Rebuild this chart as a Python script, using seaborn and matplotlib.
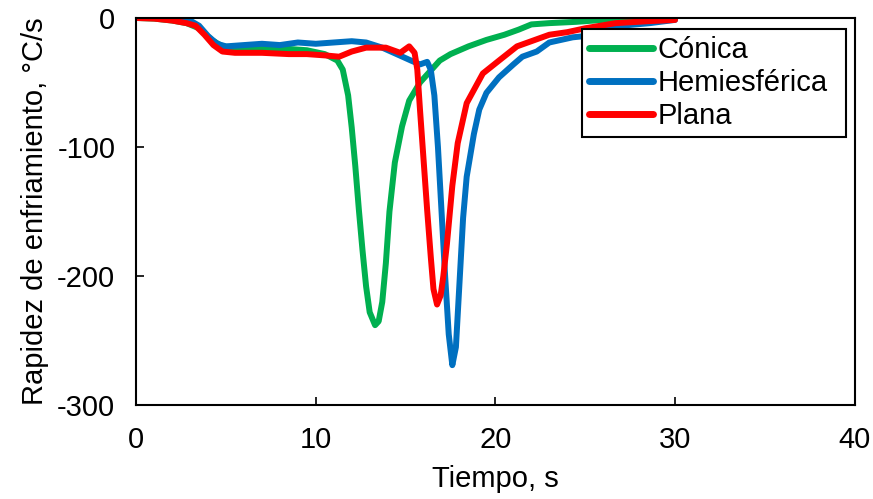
import pandas as pd
import matplotlib.pyplot as plt
import seaborn as sns

# Cónica
t_conica = [0, 1, 2, 2.8, 3.5, 4.2, 4.8, 5.5, 7, 8.5, 9.5, 10.5, 11.2, 11.5, 11.8, 12.0, 12.2,
            12.4, 12.6, 12.8, 13.0, 13.3, 13.5, 13.7, 13.9, 14.1, 14.4, 14.8, 15.2, 15.8, 16.9,
            17.5, 18.5, 19.5, 20.5, 21.3, 22, 23, 24.5, 26, 27.5, 29, 30]
y_conica = [0, -0.5, -2, -4, -8, -17, -22, -23, -23, -24, -25, -28, -33, -40, -60, -85, -115,
            -149, -180, -208, -228, -238, -235, -220, -190, -150, -112, -84, -64, -50, -33,
            -28, -22, -17, -13, -9, -5, -4, -3, -1.5, -1, -0.5, 0]

# Hemiesférica
t_hemi = [0, 1, 2, 3, 3.5, 4, 4.5, 5, 6, 7, 8, 9, 10, 11, 12, 12.8, 13.7, 14.5, 15.3, 15.8, 16.2,
          16.4, 16.6, 16.8, 17.0, 17.2, 17.4, 17.6, 17.8, 18.0, 18.2, 18.4, 18.8, 19.1, 19.5, 20.2,
          21, 21.5, 22.3, 23, 24.3, 25, 25.8, 27, 28.6, 30]
y_hemi = [0, 0, -0.5, -2, -6, -14, -20, -22, -21, -20, -21, -19, -20, -19, -18, -19, -23, -28, -33,
          -36, -34, -40, -60, -100, -150, -200, -245, -269, -255, -205, -155, -123, -90, -71, -58,
          -46, -36, -30, -26, -19, -15, -14, -8, -6, -4, -1.5]

# Plana
t_plana = [0, 1, 2, 2.8, 3.3, 3.8, 4.3, 4.8, 5.5, 7, 8.5, 9.5, 10.5, 11.3, 12.0, 12.8, 13.9, 14.7,
           15.2, 15.5, 15.65, 15.8, 16.0, 16.2, 16.4, 16.55, 16.75, 16.95, 17.1, 17.3, 17.6, 17.9,
           18.4, 19.3, 20.2, 21.2, 23, 24, 25, 26.7, 28.5, 30]
y_plana = [0, -0.5, -2, -4, -6, -13, -21, -26, -27, -27, -28, -28, -29, -30, -26, -23, -23, -27,
           -22, -27, -40, -71, -110, -149, -185, -210, -222, -215, -200, -175, -130, -97,
           -66, -43, -33, -22, -13, -11, -8, -4, -2.5, -1.5]

series = ["Cónica", "Hemiesférica", "Plana"]
colors = ["#00B050", "#0070C0", "#FF0000"]

df = pd.concat([
    pd.DataFrame({"t": t_conica, "y": y_conica, "serie": series[0]}),
    pd.DataFrame({"t": t_hemi, "y": y_hemi, "serie": series[1]}),
    pd.DataFrame({"t": t_plana, "y": y_plana, "serie": series[2]}),
])

sns.set_style("ticks")
plt.rcParams['font.family'] = ['Liberation Sans', 'DejaVu Sans']
plt.rcParams['axes.unicode_minus'] = False
plt.rcParams['text.color'] = 'black'
plt.rcParams['axes.labelcolor'] = 'black'

fig = plt.figure(figsize=(8.73, 4.99), dpi=100)
ax = fig.add_axes([0.156, 0.188, 0.823, 0.776])
sns.lineplot(data=df, x="t", y="y", hue="serie", palette=colors, hue_order=series,
             sort=False, estimator=None, linewidth=4.3, ax=ax,
             solid_joinstyle="round", solid_capstyle="round")

ax.set_xlim(0, 40)
ax.set_ylim(-300, 0)
ax.set_xticks([0, 10, 20, 30, 40])
ax.set_yticks([0, -100, -200, -300])
ax.tick_params(direction="in", length=6, width=1.2, labelsize=21, pad=15,
               top=False, right=False, colors="black")
for s in ax.spines.values():
    s.set_visible(True)
    s.set_color("black")
    s.set_linewidth(1.5)
ax.set_xlabel("Tiempo, s", fontsize=21, labelpad=8)
ax.set_ylabel("Rapidez de enfriamiento, °C/s", fontsize=21, labelpad=6)

leg = ax.legend(loc="upper left", bbox_to_anchor=(0.620, 0.708, 0.3675, 0.2636), mode="expand",
                fontsize=21, frameon=True, fancybox=False, handlelength=2.2,
                handletextpad=0.15, labelspacing=0.17, borderpad=0.25, borderaxespad=0)
leg.get_frame().set_edgecolor("black")
leg.get_frame().set_linewidth(1.5)
leg.get_frame().set_alpha(1)
for h in leg.get_lines():
    h.set_linewidth(5)

plt.savefig("out.png", dpi=100)
